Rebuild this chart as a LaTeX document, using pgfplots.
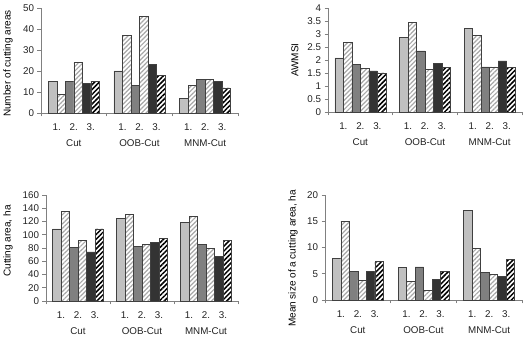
\documentclass[border=0pt]{standalone}
\usepackage{pgfplots}
\usepackage{pgfplotstable}
\pgfplotsset{compat=1.18}
\usetikzlibrary{patterns.meta}
\usepackage{fontspec}
\setmainfont{Liberation Sans}

\definecolor{barA}{HTML}{C0C0C0}
\definecolor{barC}{HTML}{808080}
\definecolor{barE}{HTML}{333333}
\definecolor{hatchgray}{HTML}{A8A8A8}
\definecolor{edge}{HTML}{404040}
\definecolor{axisgray}{HTML}{808080}
\definecolor{txt}{HTML}{222222}

% g = group (0 Cut, 1 OOB-Cut, 2 MNM-Cut), s1..s6 = the six bars of a group
\pgfplotstableread{
g s1 s2 s3 s4 s5 s6
0 15 9 15 24 14 15
1 20 37 13 46 23 18
2 7 13 16 16 15 12
}\tabnumber
\pgfplotstableread{
g s1 s2 s3 s4 s5 s6
0 2.08 2.68 1.82 1.68 1.58 1.50
1 2.87 3.46 2.35 1.64 1.86 1.72
2 3.21 2.94 1.74 1.74 1.97 1.72
}\tabawmsi
\pgfplotstableread{
g s1 s2 s3 s4 s5 s6
0 109 135 81 91 74 109
1 125 131 82 85 88 95
2 119 128 85 79 67 91
}\tabarea
\pgfplotstableread{
g s1 s2 s3 s4 s5 s6
0 7.9 15.0 5.5 3.8 5.5 7.4
1 6.2 3.6 6.3 1.9 3.9 5.4
2 17.1 9.8 5.3 4.9 4.5 7.7
}\tabmean

\newcommand{\labfont}{\fontsize{9.8}{11}\selectfont}

\pgfplotsset{
  cutpanel/.style={
    scale only axis,
    ybar=0pt, bar width=8.5pt,
    xmin=-0.5, xmax=2.5, ymin=0,
    axis x line*=bottom, axis y line*=left,
    axis line style={draw=axisgray, line width=0.6pt},
    every tick/.style={draw=axisgray, line width=0.6pt},
    tick align=outside, major tick length=3.5pt,
    xtick={-0.5,0.5,1.5,2.5}, xticklabels={},
    tick label style={font=\labfont, text=txt},
    /pgf/number format/assume math mode=true,
    label style={font=\labfont, text=txt},
    % label is rotated: yshift moves it left, xshift moves it up
    every axis y label/.style={at={(axis description cs:0,0.5)}, rotate=90, anchor=center},
    clip=false,
  },
  b1/.style={draw=edge, line width=0.5pt, fill=barA},
  b2/.style={draw=edge, line width=0.5pt, preaction={fill=white}, pattern={Lines[angle=45,distance=3.2pt,line width=1.2pt]}, pattern color=hatchgray},
  b3/.style={draw=edge, line width=0.5pt, fill=barC},
  b4/.style={draw=edge, line width=0.5pt, preaction={fill=white}, pattern={Lines[angle=45,distance=3.2pt,line width=1.2pt]}, pattern color=hatchgray},
  b5/.style={draw=edge, line width=0.5pt, fill=barE},
  b6/.style={draw=edge, line width=0.5pt, preaction={fill=white}, pattern={Lines[angle=45,distance=3.4pt,line width=1.5pt]}, pattern color=black},
}

\newcommand{\sixbars}[1]{%
  \addplot[b1] table[x=g,y=s1] {#1};
  \addplot[b2] table[x=g,y=s2] {#1};
  \addplot[b3] table[x=g,y=s3] {#1};
  \addplot[b4] table[x=g,y=s4] {#1};
  \addplot[b5] table[x=g,y=s5] {#1};
  \addplot[b6] table[x=g,y=s6] {#1};
}

\tikzset{
  sub/.style={font=\labfont, text=txt, anchor=center, yshift=-14pt},
  grp/.style={font=\labfont, text=txt, anchor=center, yshift=-30pt},
}
\newcommand{\grouplabels}{%
  \node[sub, xshift=-17pt] at (axis cs:0,0) {1.};
  \node[sub] at (axis cs:0,0) {2.};
  \node[sub, xshift=17pt] at (axis cs:0,0) {3.};
  \node[sub, xshift=-17pt] at (axis cs:1,0) {1.};
  \node[sub] at (axis cs:1,0) {2.};
  \node[sub, xshift=17pt] at (axis cs:1,0) {3.};
  \node[sub, xshift=-17pt] at (axis cs:2,0) {1.};
  \node[sub] at (axis cs:2,0) {2.};
  \node[sub, xshift=17pt] at (axis cs:2,0) {3.};
  \node[grp] at (axis cs:0,0) {Cut};
  \node[grp] at (axis cs:1,0) {OOB-Cut};
  \node[grp] at (axis cs:2,0) {MNM-Cut};
}

\begin{document}
\begin{tikzpicture}[x=1pt,y=1pt]
\useasboundingbox (0,0) rectangle (527,345);

% number of cutting areas
\begin{axis}[cutpanel, at={(41pt,232pt)}, anchor=south west,
  width=197pt, height=105pt, ymax=50, ytick={0,10,...,50},
  ylabel={Number of cutting areas},
  ylabel style={yshift=33pt, xshift=-3pt}]
  \sixbars{\tabnumber}
  \grouplabels
\end{axis}

% AWMSI
\begin{axis}[cutpanel, at={(328pt,233pt)}, anchor=south west,
  width=194pt, height=104pt, ymax=4, ytick={0,0.5,...,4},
  ylabel={AWMSI},
  ylabel style={yshift=33pt}]
  \sixbars{\tabawmsi}
  \grouplabels
\end{axis}

% cutting area
\begin{axis}[cutpanel, at={(46pt,44pt)}, anchor=south west,
  width=192pt, height=106pt, ymax=160, ytick={0,20,...,160},
  ylabel={Cutting area, ha},
  ylabel style={yshift=38pt, xshift=7pt}]
  \sixbars{\tabarea}
  \grouplabels
\end{axis}

% mean size of a cutting area
\begin{axis}[cutpanel, at={(325pt,45pt)}, anchor=south west,
  width=197pt, height=105pt, ymax=20, ytick={0,5,...,20},
  ylabel={Mean size of a cutting area, ha},
  ylabel style={yshift=32pt, xshift=-11pt}]
  \sixbars{\tabmean}
  \grouplabels
\end{axis}
\end{tikzpicture}
\end{document}
